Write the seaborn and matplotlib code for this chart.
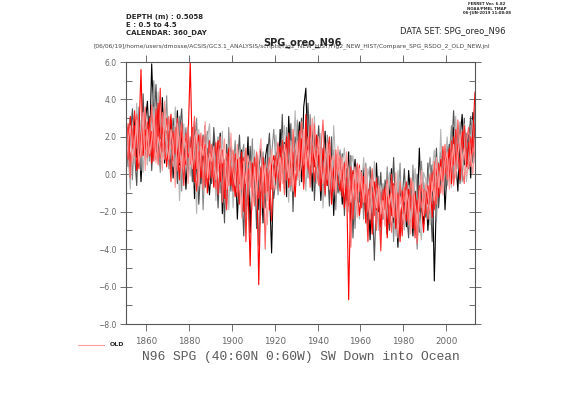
import numpy as np
import pandas as pd
import matplotlib
matplotlib.use('Agg')
from matplotlib import pyplot as plt
from matplotlib.ticker import MultipleLocator, FuncFormatter
import seaborn as sns

# annual values 1850..2013, one row per decade
years = np.arange(1850, 2014) + 0.5

black_1 = [
    1.2, 2.5, 0.3, 1.8, 3.1, 0.9, 2.2, -0.4, 1.5, 2.8,
    3.9, 1.4, 5.9, 2.6, 0.8, 3.2, 1.9, 4.1, 0.6, 2.3,
    1.1, 2.9, -0.2, 1.7, 3.4, 0.5, 2.0, 1.3, -0.8, 1.6,
    0.9, 2.4, -1.3, 0.7, 1.8, -0.5, 1.2, 2.6, 0.1, -1.1,
    0.8, 1.9, -0.9, 0.4, 2.2, -2.1, 0.6, 1.0, -0.3, 1.5,
    -0.6, 0.9, -2.4, 0.2, 1.3, -1.5, -0.2, 2.0, -3.1, 0.5,
    -0.8, 1.1, -1.9, 0.3, -2.6, 0.8, 1.6, -0.7, -4.2, 0.4,
    1.2, -0.5, 2.4, 0.1, 1.7, -1.2, 3.1, 0.6, -0.3, 2.0,
    1.4, 2.8, -0.4, 3.6, 4.6, 0.9, 1.8, -0.9, 2.2, 0.3,
    1.0, -1.4, 0.7, 2.3, -0.6, 0.4, 1.5, -2.2, 0.2, -0.8,
    0.6, -1.6, 0.1, -0.9, 1.2, -2.5, -0.3, 0.8, -1.8, -0.6,
    -1.2, 0.4, -2.3, -0.8, -3.5, -0.5, -1.7, 0.6, -2.0, -1.1,
    -1.8, -0.6, -3.2, -1.0, 0.3, -2.6, -1.4, -3.9, -0.7, -2.1,
    -1.5, -2.8, 0.2, -1.2, -3.3, -0.9, -2.0, 1.4, -1.6, -2.7,
    -0.8, -3.0, -1.3, 0.5, -5.7, -1.1, 0.2, -0.6, 1.0, -1.9,
    0.4, 1.6, -0.3, 2.5, 0.8, -0.9, 1.9, 3.2, 0.5, 1.3,
    2.1, -0.2, 3.3, 1.4]

black_2 = [
    2.6, 0.4, 1.9, 3.5, 1.1, -0.6, 2.7, 1.5, 4.3, 0.8,
    1.6, 3.1, 0.2, 2.5, 4.8, 1.7, 0.4, 2.9, 3.6, 1.2,
    2.4, 0.1, 3.0, 1.6, -0.5, 2.2, 3.5, 0.8, 1.9, -0.2,
    1.7, -0.4, 2.8, 1.0, -1.6, 0.5, 2.1, -0.7, 1.4, 0.6,
    -0.5, 2.5, 0.9, -1.8, 1.1, 0.3, -2.6, 1.6, 0.2, -0.9,
    1.0, -1.1, 0.4, 2.1, -0.7, -3.3, 0.8, -0.4, 1.5, -1.6,
    0.6, -2.9, 0.1, 1.4, -0.6, -1.8, 0.9, 2.2, -0.5, -1.3,
    -0.2, 1.6, 0.3, 3.2, -0.8, 1.1, 0.5, 2.7, -2.0, 1.3,
    0.4, 1.9, 3.0, -0.2, 1.5, 3.8, 0.7, 2.4, -1.4, 1.0,
    2.6, 0.1, -0.9, 1.3, 0.6, -1.7, 2.0, -0.3, 0.9, -1.0,
    -0.4, 1.1, -2.2, 0.3, -0.7, 1.0, -3.4, -0.2, 0.5, -1.5,
    0.2, -1.9, -0.6, -2.8, 0.4, -1.3, -4.6, -0.9, -1.6, 0.1,
    -2.4, -0.3, -1.1, -3.0, -1.7, 0.9, -2.2, -0.8, -2.9, -1.3,
    0.3, -2.0, -3.4, -0.6, -1.5, -2.6, 0.0, -3.1, -1.0, -0.4,
    -2.3, 0.6, -1.0, -3.6, -0.5, 1.4, -1.8, -0.2, 0.8, -0.7,
    1.5, -0.4, 0.9, 3.4, 1.1, 2.3, -0.5, 1.2, 3.0, 0.4,
    1.8, 3.1, 0.6, 2.4]

black_3 = [
    0.5, 1.7, 3.0, -0.3, 2.1, 1.4, 3.6, 0.2, 2.8, 1.6,
    2.2, 0.7, 3.4, 5.0, 1.3, 2.6, 0.1, 3.0, 1.8, 4.2,
    0.3, 1.8, 2.6, 0.0, 1.3, 3.1, -0.9, 1.7, 2.5, 0.6,
    2.0, 0.4, 1.1, 3.0, -0.3, 1.6, -1.9, 0.8, 2.3, 1.1,
    1.4, -0.6, 0.5, 2.0, -1.0, 1.2, 0.4, -1.6, 2.5, 0.0,
    0.3, 1.8, -0.9, -0.2, 0.9, 1.6, -2.2, 0.5, -0.7, 1.9,
    -1.5, 0.2, -3.8, -0.4, 1.2, -0.9, 0.3, -1.6, 1.0, 2.4,
    0.8, -1.1, 1.5, 0.4, -0.3, 2.5, 1.2, -0.9, 1.9, 0.2,
    2.9, -0.6, 1.3, 0.8, 2.3, -0.2, 3.2, 1.5, 0.4, 2.0,
    -0.5, 1.7, 0.4, -1.2, 2.1, 0.9, -0.6, 1.3, -1.9, 0.7,
    1.3, -0.5, 0.7, -1.4, -0.2, 0.9, -1.1, -2.9, 0.3, -0.8,
    -0.3, -2.4, 0.6, -1.0, -1.8, 0.2, -0.7, -2.6, -0.1, -3.3,
    -0.5, -1.9, 0.4, -2.3, -1.0, -3.6, -0.4, -1.5, 0.6, -2.8,
    -2.2, -0.5, -1.3, -2.9, 0.5, -1.8, -4.0, -1.1, 0.7, -2.0,
    -1.4, -0.2, 0.9, -1.6, -0.8, -2.5, 0.4, 1.2, -0.5, 0.6,
    -0.6, 1.0, 2.6, -0.2, 1.7, 0.3, 2.8, -0.4, 1.5, 2.2,
    0.7, 2.6, 1.3, 3.5]

black_4 = [
    3.3, 1.0, -0.8, 2.4, 0.6, 3.8, 1.2, 2.9, 0.1, 1.9,
    0.5, 2.7, 1.5, 3.6, 2.0, 4.4, 2.8, 0.9, 3.3, 1.0,
    2.8, 1.2, 0.4, 3.6, 1.9, -1.4, 1.1, 2.7, 0.9, 2.1,
    -0.1, 1.3, 0.7, -2.1, 2.4, 1.0, 0.2, -0.5, 1.9, 2.7,
    0.2, 1.0, -1.4, 1.6, 0.1, 2.3, -0.5, 0.7, -1.9, 1.2,
    -1.8, 0.6, 1.2, -1.3, -0.4, 0.5, 1.1, -1.7, 0.3, -0.5,
    1.3, -0.7, 0.6, -2.2, 0.4, -0.2, -1.4, 1.5, 0.2, -0.9,
    2.1, 0.6, -0.7, 1.4, 2.6, 0.2, -1.5, 1.8, 0.9, 3.4,
    -0.3, 0.8, 2.0, 1.2, -0.9, 1.7, 2.4, 0.1, 3.1, -0.5,
    0.4, 2.2, -1.8, 0.6, 1.1, 0.0, -1.2, 2.6, 0.5, -0.3,
    -1.1, 0.5, 1.4, -0.6, -2.0, 0.4, 1.0, -0.9, 0.1, -2.4,
    -0.8, 0.9, -1.5, 0.3, -0.4, -2.1, 0.7, -1.2, -3.0, -0.6,
    -1.2, -2.7, -0.8, 0.1, -2.0, -1.1, -3.3, 0.2, -1.6, -0.9,
    -3.0, -1.2, -0.6, -2.4, -1.7, 0.3, -1.3, -2.6, -3.5, 0.1,
    -0.3, -1.5, -2.7, 0.2, 1.3, -0.4, -1.1, 2.4, -0.8, 0.5,
    2.0, 0.1, -0.7, 1.4, 3.1, 0.8, 0.0, 1.9, 2.7, -0.4,
    0.9, 1.5, 2.9, 0.6]

red_1 = [
    2.0, 0.8, 3.1, 1.4, 2.6, 0.2, 1.9, 5.6, 1.0, 2.4,
    1.5, 3.0, 0.6, 2.2, 1.3, 3.8, 0.9, 2.5, 1.7, 0.4,
    1.9, 3.2, 0.7, 2.0, 1.2, -0.3, 2.6, 1.0, 0.5, 1.8,
    6.0, 0.9, -0.4, 1.5, 2.1, -0.2, 0.8, 1.6, -1.0, 0.6,
    1.1, -0.7, 0.5, 1.8, -0.4, 0.9, -1.3, 0.2, 1.4, -0.6,
    0.4, -1.2, 0.8, -0.5, 1.2, -2.0, 0.1, -0.8, -4.9, 0.6,
    -0.3, 0.7, -5.9, -0.6, 0.9, -1.0, 0.3, -1.9, 0.5, 1.0,
    -0.4, 0.8, 1.5, -0.2, 0.6, 2.0, -0.7, 1.1, 0.3, -1.2,
    1.0, 0.2, 1.9, -0.5, 3.2, 0.7, -0.3, 1.5, 0.4, 2.1,
    0.6, -0.9, 1.4, 0.1, -0.6, 1.0, -1.6, 0.3, 0.8, -0.4,
    -0.9, 0.4, -1.8, -0.2, -6.7, -0.7, 0.2, -1.3, -0.5, -2.2,
    -1.0, -0.1, -2.6, -0.8, -1.5, -3.2, -0.4, -1.9, -1.2, -2.8,
    -1.6, -0.7, -3.4, -1.1, -2.2, -0.5, -2.9, -1.4, -3.6, -0.9,
    -1.9, -2.5, -0.8, -1.3, -2.9, -1.0, -2.2, -0.6, -1.7, -3.1,
    -0.9, -1.6, -0.2, -2.3, -0.6, 0.3, -1.2, 0.8, -0.4, 1.1,
    0.2, 1.4, -0.5, 2.0, 0.7, 1.6, -0.3, 2.3, 1.0, 0.4,
    1.7, 0.5, 2.2, 4.4]

red_2 = [
    1.1, 2.7, 0.5, 1.9, 3.4, 1.6, 0.3, 2.2, 3.0, 1.3,
    2.8, 1.0, 2.3, 0.7, 3.5, 1.8, 4.6, 1.2, 2.1, 3.0,
    1.4, -0.4, 2.3, 1.1, 3.0, 0.6, 1.5, -0.6, 2.2, 0.9,
    1.3, 2.5, 0.2, -0.9, 1.2, 0.4, 2.0, -0.6, 0.7, 1.8,
    -0.2, 0.6, 1.7, -1.1, 0.3, 1.3, -0.5, -1.9, 0.9, 0.4,
    -0.9, 1.1, 0.2, -1.6, 0.5, 0.9, -3.6, 0.3, -0.2, -1.0,
    0.9, -0.5, -1.3, 0.4, -1.8, 0.6, -0.9, 0.2, -2.5, 0.3,
    1.0, 0.1, -0.9, 1.8, 0.5, -0.3, 2.2, 0.4, 1.2, -0.5,
    0.6, 2.3, 0.9, -0.8, 1.5, 0.3, 2.6, 1.0, -0.4, 1.2,
    1.5, -0.2, 0.5, -1.1, 0.9, 2.0, 0.1, -0.9, 0.6, 1.1,
    0.2, -1.2, 0.6, -0.5, -1.7, 0.4, -2.4, -0.3, -1.1, 0.5,
    -1.8, -0.6, -1.3, -3.6, -0.5, -1.0, -2.2, -0.2, -1.5, -4.1,
    -0.8, -1.9, -1.2, -2.6, 0.0, -1.5, -2.4, -1.0, -2.0, -3.3,
    -1.1, -0.4, -2.3, -1.6, -0.9, -3.4, -1.4, -2.0, -0.5, -1.5,
    -2.1, -0.6, -1.4, 0.1, -1.9, -0.8, 0.6, -0.3, 1.5, 0.0,
    1.0, -0.2, 1.8, 0.5, 2.4, 1.1, 0.3, 1.5, 2.6, 0.9,
    0.3, 2.0, 1.2, 2.7]

red_3 = [
    2.9, 1.5, -0.2, 2.3, 1.0, 3.2, 2.5, 0.9, 1.7, 3.6,
    0.9, 2.0, 3.7, 1.4, 2.6, 0.5, 2.2, 3.3, 0.8, 1.9,
    3.1, 1.6, 1.0, 2.5, 0.2, 1.7, 2.8, 0.4, 1.2, 2.6,
    0.5, 1.7, 3.1, 0.3, 1.0, 2.2, -0.8, 1.4, 0.9, -0.3,
    1.6, 0.0, -0.8, 1.0, 2.0, -1.5, 0.7, 1.1, -0.6, 0.8,
    1.3, -0.3, -1.2, 0.9, -0.8, 0.2, 1.4, -1.1, 0.7, -0.4,
    -1.7, 1.2, -0.2, -0.9, 0.5, -4.0, 0.1, 0.9, -0.8, -0.2,
    0.5, 1.7, -0.4, 0.9, -1.1, 1.3, 0.2, -0.6, 2.4, 0.8,
    -0.1, 1.4, 2.8, 0.5, 1.1, 2.0, -0.7, 0.9, 2.7, 0.2,
    -0.6, 1.2, 2.9, 0.2, -0.3, 1.6, 0.4, -0.8, 1.3, 0.1,
    1.0, -0.7, -0.1, 0.8, -1.0, -3.9, 0.0, -1.4, 0.6, -0.9,
    0.1, -1.2, -0.5, -2.0, -0.9, 0.3, -1.6, -3.0, -0.7, -1.1,
    -2.3, -1.0, -0.3, -1.8, -3.1, -0.6, -1.3, -2.5, -0.4, -1.7,
    -0.7, -1.6, -2.7, -0.2, -1.2, -2.0, -3.7, -0.9, -1.8, -0.8,
    -1.2, -2.4, 0.0, -0.9, 0.7, -1.6, -0.1, -1.0, 0.3, 1.6,
    -0.3, 0.6, 1.2, -0.6, 0.4, 2.9, 1.3, 0.2, -0.5, 1.8,
    2.5, 0.4, 1.4, 1.0]

red_4 = [
    0.4, 1.8, 2.6, 0.7, 1.5, 2.9, 0.6, 1.3, 3.3, 0.2,
    2.4, 1.1, 1.8, 3.1, 0.6, 2.0, 1.4, 0.2, 3.9, 1.6,
    0.8, 2.4, 1.5, -0.7, 2.7, 1.4, 0.3, 2.0, 1.5, -0.5,
    1.4, 0.3, 1.9, 2.3, -0.6, 1.5, 1.0, 2.8, -0.2, 1.1,
    0.7, 1.5, -0.3, 0.2, 1.4, 0.6, 1.9, -0.8, -0.1, 2.2,
    0.1, -0.6, 1.6, 0.3, -2.3, 0.7, -0.5, 1.0, 0.2, -1.9,
    0.4, -1.1, 0.8, 1.9, -0.4, 0.5, -2.7, -0.3, 1.3, -0.6,
    -0.8, 0.4, 0.9, -0.5, 1.6, 0.7, -0.2, 1.5, -0.9, 0.6,
    1.8, -0.3, 0.6, 2.4, 0.3, 1.3, 0.5, 3.0, 1.1, 0.4,
    2.0, 0.5, -0.5, 0.9, 1.7, -0.8, 0.7, 1.0, -1.1, 1.5,
    -0.3, 0.9, -0.9, 1.2, 0.1, -1.5, -0.6, 0.4, -2.3, 0.3,
    -0.6, -1.5, 0.4, -1.0, -2.4, -0.3, -1.0, -1.8, -0.6, -2.1,
    -1.4, -2.8, -0.5, -1.6, -1.0, -2.3, 0.1, -3.4, -1.2, -1.8,
    -2.6, -0.9, -1.5, -3.2, -0.4, -1.6, -2.5, -1.2, 0.2, -2.2,
    -0.5, -1.0, -2.0, -0.4, -1.4, 0.9, -0.7, 0.4, -1.1, 0.7,
    1.2, -0.8, 0.5, 1.6, -0.2, 1.0, 2.1, 0.6, 1.4, -0.1,
    0.5, 1.1, 0.0, 1.9]

members = {
    'new_1': black_1, 'new_2': black_2, 'new_3': black_3, 'new_4': black_4,
    'old_1': red_1, 'old_2': red_2, 'old_3': red_3, 'old_4': red_4,
}
palette = {
    'new_1': '#000000', 'new_2': '#505050', 'new_3': '#8a8a8a', 'new_4': '#b5b5b5',
    'old_1': '#ff0000', 'old_2': '#ff2a2a', 'old_3': '#ff6060', 'old_4': '#ff9a9a',
}

df = pd.concat(
    [pd.DataFrame({'year': years, 'value': vals, 'member': name})
     for name, vals in members.items()],
    ignore_index=True)

sns.set_style('white')
plt.rcParams['font.family'] = ['DejaVu Sans']

fig = plt.figure(figsize=(5.61, 3.97), dpi=100)
ax = fig.add_axes([126 / 561, 1 - 324 / 397, 349 / 561, 262 / 397])

sns.lineplot(data=df, x='year', y='value', hue='member', palette=palette,
             estimator=None, linewidth=0.8, legend=False, ax=ax)

ax.set_xlim(1850.5, 2013.5)
ax.set_ylim(-8, 6)
ax.set_xlabel('')
ax.set_ylabel('')
ax.xaxis.set_major_locator(MultipleLocator(20))
ax.yaxis.set_major_locator(MultipleLocator(2))
ax.yaxis.set_minor_locator(MultipleLocator(1))
ax.yaxis.set_major_formatter(FuncFormatter(lambda v, p: f'{v:.1f}'.replace('-', '\u2212')))
ax.tick_params(axis='x', which='major', direction='out', length=5, width=0.6,
               top=True, bottom=True, labelsize=6.3, labelcolor='#666666', color='#555555', pad=4)
ax.tick_params(axis='y', which='major', direction='inout', length=8, width=0.6,
               left=True, right=True, labelsize=5.5, labelcolor='#666666', color='#555555', pad=3)
ax.tick_params(axis='y', which='minor', direction='in', length=4, width=0.6,
               left=True, right=True, color='#555555')
for s in ax.spines.values():
    s.set_color('#555555')
    s.set_linewidth(0.8)

# header texts
W, H = 561, 397
def ftext(x, y, s, **kw):
    fig.text(x / W, 1 - y / H, s, **kw)

ftext(126, 17, 'DEPTH (m) : 0.5058', fontsize=5, va='center', weight='bold')
ftext(126, 25, 'E : 0.5 to 4.5', fontsize=5, va='center', weight='bold')
ftext(126, 33, 'CALENDAR: 360_DAY', fontsize=5, va='center', weight='bold')
ftext(400, 31, 'DATA SET: SPG_oreo_N96', fontsize=6, va='center')
ftext(487, 4, 'FERRET Ver. 6.82', fontsize=2.8, va='center', ha='center', weight='bold')
ftext(487, 8.5, 'NOAA/PMEL TMAP', fontsize=2.8, va='center', ha='center', weight='bold')
ftext(487, 13, '06-JUN-2019 11:08:08', fontsize=2.8, va='center', ha='center', weight='bold')
ftext(93, 46, '[06/06/19]/home/users/dmosse/ACSIS/GC3.1_ANALYSIS/scripts/Fig2_NEW_HIST/'
      'Fig2_NEW_HIST/Compare_SPG_RSDO_2_OLD_NEW.jnl',
      fontsize=4.3, va='center', color='#444444')
ftext(302, 43, 'SPG_oreo_N96', fontsize=7, va='center', ha='center', weight='bold')

# legend entry
fig.add_artist(plt.Line2D([78 / W, 104 / W], [1 - 345 / H, 1 - 345 / H],
                          color=palette['old_4'], linewidth=0.8))
ftext(110, 345, 'OLD', fontsize=4.5, va='center', weight='bold')

ftext(301, 357, 'N96 SPG (40:60N 0:60W) SW Down into Ocean', fontsize=9.4,
      va='center', ha='center', color='#5a5a5a', family='Liberation Mono')

fig.savefig('out.png', dpi=100)
